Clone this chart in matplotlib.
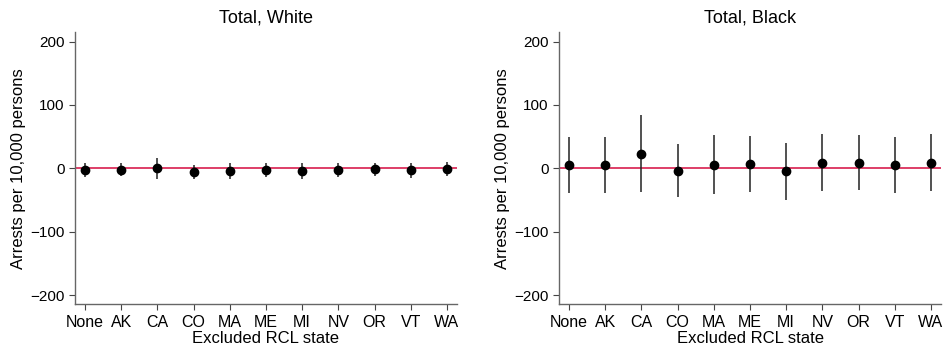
import matplotlib
matplotlib.use("Agg")
import numpy as np
from matplotlib import pyplot as plt

plt.rcParams["font.family"] = ["Liberation Sans", "DejaVu Sans"]

states = ["None", "AK", "CA", "CO", "MA", "ME", "MI", "NV", "OR", "VT", "WA"]

# Total, White
white_est = [-2.6, -2.0, 0.0, -5.2, -3.7, -2.6, -4.2, -2.0, -1.6, -3.1, -1.0]
white_lo = [-13.6, -12.6, -16.8, -16.3, -16.3, -14.0, -16.3, -13.0, -12.6, -14.7, -11.5]
white_hi = [8.4, 8.4, 16.3, 5.8, 8.4, 8.9, 8.4, 9.4, 9.4, 8.4, 10.0]

# Total, Black
black_est = [5.8, 5.8, 23.1, -3.7, 5.2, 6.8, -4.7, 9.4, 8.9, 5.2, 8.9]
black_lo = [-38.3, -38.8, -37.3, -45.7, -40.4, -37.3, -49.9, -36.2, -34.6, -38.8, -35.7]
black_hi = [49.3, 49.9, 83.5, 38.3, 52.5, 50.9, 40.9, 54.6, 53.0, 49.3, 54.1]

panels = [
    ("Total, White", white_est, white_lo, white_hi),
    ("Total, Black", black_est, black_lo, black_hi),
]

fig = plt.figure(figsize=(9.46, 3.5), dpi=100)
axes = [
    fig.add_axes([75 / 946, 45.7 / 350, 382 / 946, 272.3 / 350]),
    fig.add_axes([559 / 946, 45.7 / 350, 382 / 946, 272.3 / 350]),
]

x = np.arange(len(states))
for ax, (title, est, lo, hi) in zip(axes, panels):
    ax.axhline(0, color="#d81e4e", linewidth=1.2, zorder=1)
    ax.vlines(x, lo, hi, color="#222222", linewidth=1.1, zorder=2)
    ax.plot(x, est, "o", color="black", markersize=6, zorder=3)

    ax.set_xlim(-0.28, 10.28)
    ax.set_ylim(-214, 215)
    ax.set_yticks([-200, -100, 0, 100, 200])
    ax.set_yticklabels(["\u2212200", "\u2212100", "0", "100", "200"])
    ax.set_xticks(x)
    ax.set_xticklabels(states)

    ax.set_title(title, fontsize=13, pad=7)
    ax.set_xlabel("Excluded RCL state", fontsize=12, labelpad=1)
    ax.set_ylabel("Arrests per 10,000 persons", fontsize=12, labelpad=3)

    for side in ["top", "right"]:
        ax.spines[side].set_visible(False)
    for side in ["left", "bottom"]:
        ax.spines[side].set_color("#666666")
        ax.spines[side].set_linewidth(1.0)
    ax.tick_params(axis="both", direction="out", length=4.5, width=0.8,
                   color="#444444")
    ax.tick_params(axis="x", labelsize=11.5, pad=3)
    ax.tick_params(axis="y", labelsize=11, pad=3)

fig.savefig("out.png", dpi=100)
